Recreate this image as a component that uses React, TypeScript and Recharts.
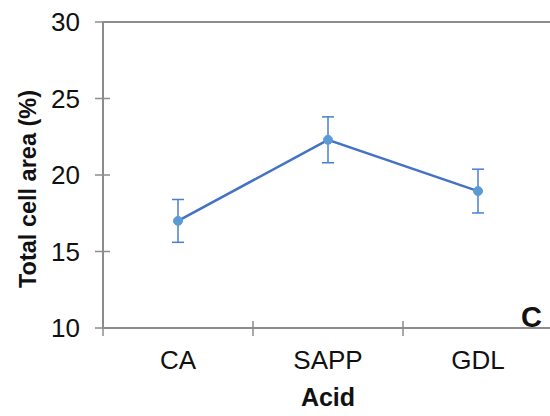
import React from 'react'
import { LineChart, Line, XAxis, YAxis, ErrorBar, ReferenceLine, Label } from 'recharts'

const categories = ['CA', 'SAPP', 'GDL']
const cellArea = [17.0, 22.3, 18.95]
const cellAreaErr = [1.4, 1.5, 1.43]
const yTicks = [10, 15, 20, 25, 30]

const data = categories.map((name, i) => ({ name, value: cellArea[i], err: cellAreaErr[i] }))

const W = 560
const H = 416
const margin = { top: 22, right: 7, left: 0, bottom: 0 }
const yAxisWidth = 103
const xAxisHeight = 88
const band = (W - margin.left - margin.right - yAxisWidth) / categories.length

const axisColor = '#8c8c8c'
const font = '"Liberation Sans", Arial, sans-serif'

const YTick = (props: any) => {
  const { x, y, payload } = props
  return (
    <g>
      <line x1={x - 8} x2={x + 7} y1={y} y2={y} stroke={axisColor} strokeWidth={1.5} />
      <text x={x - 23} y={y} dy="0.36em" textAnchor="end" fontSize={26} fill="#111" fontFamily={font}>
        {payload.value}
      </text>
    </g>
  )
}

const XTick = (props: any) => {
  const { x, y, payload } = props
  return (
    <g>
      <line x1={x - band / 2} x2={x - band / 2} y1={y - 7} y2={y + 8} stroke={axisColor} strokeWidth={1.5} />
      <text x={x} y={y + 41} textAnchor="middle" fontSize={26} fill="#111" fontFamily={font}>
        {payload.value}
      </text>
    </g>
  )
}

export default function App() {
  return (
    <div style={{ position: 'absolute', left: 0, top: 0, width: 550, height: 416, overflow: 'hidden', background: '#fff' }}>
      <LineChart width={W} height={H} data={data} margin={margin}>
        <ReferenceLine y={30} stroke={axisColor} strokeWidth={2} />
        <XAxis
          dataKey="name"
          scale="band"
          height={xAxisHeight}
          axisLine={{ stroke: axisColor, strokeWidth: 2 }}
          tickLine={false}
          tickSize={0}
          tickMargin={0}
          tick={<XTick />}
          interval={0}
        >
          <Label
            content={(p: any) => (
              <text x={p.viewBox.x + p.viewBox.width / 2} y={406} textAnchor="middle" fontSize={25} fontWeight="bold" fill="#111" fontFamily={font}>
                Acid
              </text>
            )}
          />
          <Label
            content={(p: any) => (
              <text x={p.viewBox.x + p.viewBox.width - 11} y={p.viewBox.y - 1} textAnchor="end" fontSize={29} fontWeight="bold" fill="#111" fontFamily={font}>
                C
              </text>
            )}
          />
        </XAxis>
        <YAxis
          domain={[10, 30]}
          ticks={yTicks}
          width={yAxisWidth}
          axisLine={{ stroke: axisColor, strokeWidth: 2 }}
          tickLine={false}
          tickSize={0}
          tickMargin={0}
          tick={<YTick />}
          interval={0}
        >
          <Label
            content={() => (
              <text
                x={28}
                y={189}
                transform="rotate(-90 28 189)"
                textAnchor="middle"
                dominantBaseline="central"
                fontSize={23.5}
                fontWeight="bold"
                fill="#111"
                fontFamily={font}
              >
                Total cell area (%)
              </text>
            )}
          />
        </YAxis>
        <Line
          dataKey="value"
          stroke="#4472C4"
          strokeWidth={2.5}
          dot={{ r: 4.5, fill: '#5B9BD5', stroke: '#5B9BD5', strokeWidth: 1 }}
          isAnimationActive={false}
        >
          <ErrorBar dataKey="err" width={6} stroke="#4a7fd0" strokeWidth={1.5} isAnimationActive={false} />
        </Line>
      </LineChart>
    </div>
  )
}
